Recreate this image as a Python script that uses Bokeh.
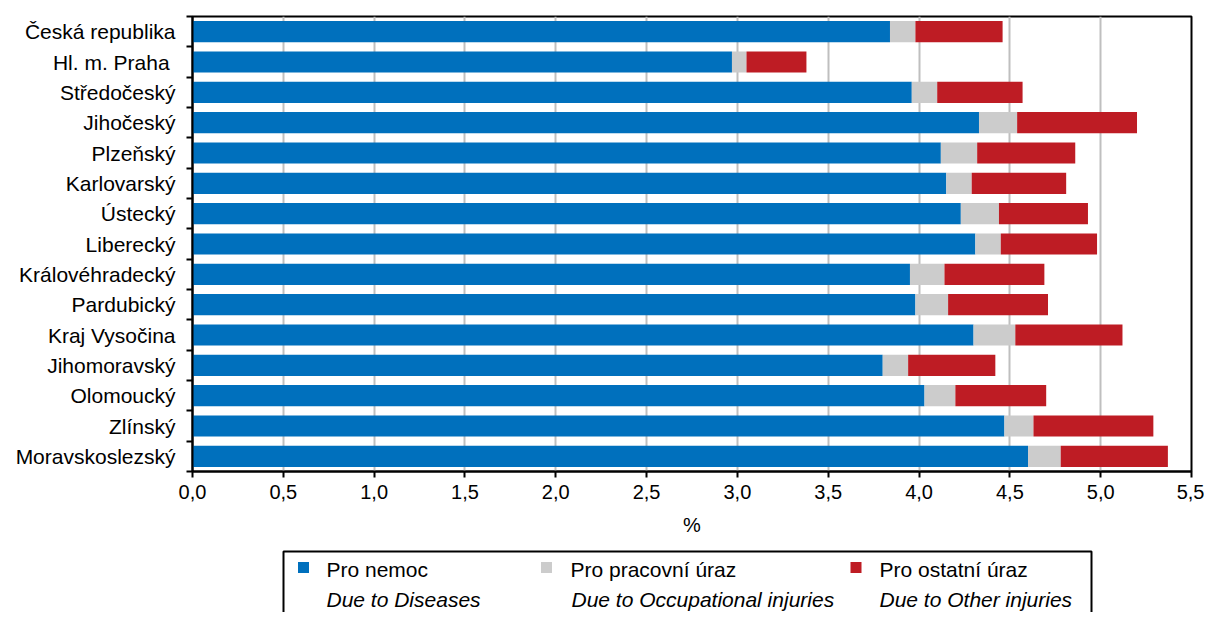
import numpy as np
from bokeh.plotting import figure
from bokeh.layouts import column
from bokeh.models import Range1d, FixedTicker
from bokeh.core.properties import value
from bokeh.embed import file_html
from bokeh.resources import INLINE

# ---- data ----
regions = ["Česká republika", "Hl. m. Praha\u00a0", "Středočeský", "Jihočeský", "Plzeňský",
           "Karlovarský", "Ústecký", "Liberecký", "Královéhradecký", "Pardubický",
           "Kraj Vysočina", "Jihomoravský", "Olomoucký", "Zlínský", "Moravskoslezský"]
pro_nemoc = [3.84, 2.97, 3.96, 4.33, 4.12, 4.15, 4.23, 4.31, 3.95, 3.98, 4.30, 3.80, 4.03, 4.47, 4.60]
pro_pracovni = [0.14, 0.08, 0.14, 0.21, 0.20, 0.14, 0.21, 0.14, 0.19, 0.18, 0.23, 0.14, 0.17, 0.16, 0.18]
pro_ostatni = [0.48, 0.33, 0.47, 0.66, 0.54, 0.52, 0.49, 0.53, 0.55, 0.55, 0.59, 0.48, 0.50, 0.66, 0.59]
x_ticks = [0.0, 0.5, 1.0, 1.5, 2.0, 2.5, 3.0, 3.5, 4.0, 4.5, 5.0, 5.5]
x_tick_labels = ["0,0", "0,5", "1,0", "1,5", "2,0", "2,5", "3,0", "3,5", "4,0", "4,5", "5,0", "5,5"]
x_axis_title = "%"
legend_cz = ["Pro nemoc", "Pro pracovní úraz", "Pro ostatní úraz"]
legend_en = ["Due to Diseases", "Due to Occupational injuries", "Due to Other injuries"]
colors = ["#0070BD", "#CCCCCC", "#BE1C24"]

FONT = "Liberation Sans"
FS = "21px"
FS_TICK = "20px"

n = len(regions)
idx = np.arange(n)
a = np.array(pro_nemoc)
b = np.array(pro_pracovni)
c = np.array(pro_ostatni)

W = 1204
p = figure(width=W, height=540, output_backend="svg", toolbar_location=None,
           x_range=Range1d(0, 5.5), y_range=Range1d(n - 0.5, -0.5),
           min_border_left=192, min_border_right=13, min_border_top=16, min_border_bottom=69)
p.outline_line_color = "black"
p.outline_line_width = 2

bh = 0.7
p.hbar(y=idx, left=0, right=a, height=bh, color=colors[0], line_color=None)
p.hbar(y=idx, left=a, right=a + b, height=bh, color=colors[1], line_color=None)
p.hbar(y=idx, left=a + b, right=a + b + c, height=bh, color=colors[2], line_color=None)

# x axis
p.xaxis.ticker = FixedTicker(ticks=x_ticks)
p.xaxis.major_label_overrides = {t: l for t, l in zip(x_ticks, x_tick_labels)}
p.xaxis.axis_label = x_axis_title
p.xaxis.axis_label_text_font_style = "normal"
p.xaxis.axis_label_text_font = FONT
p.xaxis.axis_label_text_font_size = FS_TICK
p.xaxis.axis_label_text_color = "black"
p.xaxis.axis_label_standoff = 12
p.xaxis.major_label_text_font = FONT
p.xaxis.major_label_text_font_size = FS_TICK
p.xaxis.major_label_text_color = "black"
p.xaxis.major_label_standoff = 7
p.xaxis.major_tick_out = 6
p.xaxis.major_tick_in = 0
p.xaxis.minor_tick_out = 0
p.xaxis.minor_tick_in = 0
p.xaxis.axis_line_width = 2
p.xaxis.major_tick_line_width = 2
p.xaxis.axis_line_color = "black"
p.xaxis.major_tick_line_color = "black"

# y axis: labels at centers, ticks between categories
p.yaxis.ticker = FixedTicker(ticks=list(idx), minor_ticks=[i - 0.5 for i in range(n + 1)])
p.yaxis.major_label_overrides = {int(i): r for i, r in zip(idx, regions)}
p.yaxis.major_label_text_font = FONT
p.yaxis.major_label_text_font_size = FS
p.yaxis.major_label_text_color = "black"
p.yaxis.major_tick_out = 0
p.yaxis.major_tick_in = 0
p.yaxis.minor_tick_out = 6
p.yaxis.minor_tick_in = 0
p.yaxis.minor_tick_line_width = 2
p.yaxis.minor_tick_line_color = "black"
p.yaxis.major_label_standoff = 11
p.yaxis.axis_line_width = 2
p.yaxis.axis_line_color = "black"

p.xgrid.ticker = FixedTicker(ticks=x_ticks)
p.xgrid.grid_line_color = "#BFBFBF"
p.xgrid.grid_line_width = 2
p.ygrid.grid_line_color = None

# ---- legend figure (frame aligned with the main plot frame; ranges in page pixels) ----
lg = figure(width=W, height=72, output_backend="svg", toolbar_location=None,
            x_range=Range1d(192, 1191), y_range=Range1d(612, 540),
            min_border_left=192, min_border_right=13, min_border_top=0, min_border_bottom=0)
lg.axis.visible = False
lg.grid.visible = False
lg.outline_line_color = None

lg.quad(left=[283], right=[1091], top=[551], bottom=[620], fill_color=None,
        line_color="black", line_width=2)
sq_x = [303, 546, 855.5]
lg.rect(x=sq_x, y=[567, 567, 567], width=11, height=11, fill_color=colors, line_color=None)
lg.text(x=[326, 570, 879], y=[569, 569, 569], text=legend_cz, text_font=value(FONT), text_font_size=FS,
        text_baseline="middle", text_align="left", text_color="black")
lg.text(x=[326, 571, 879], y=[599, 599, 599], text=legend_en, text_font=value(FONT), text_font_size=FS,
        text_font_style="italic", text_baseline="middle", text_align="left", text_color="black")

layout = column(p, lg, spacing=0)
open("out.html", "w").write(file_html(layout, INLINE))
